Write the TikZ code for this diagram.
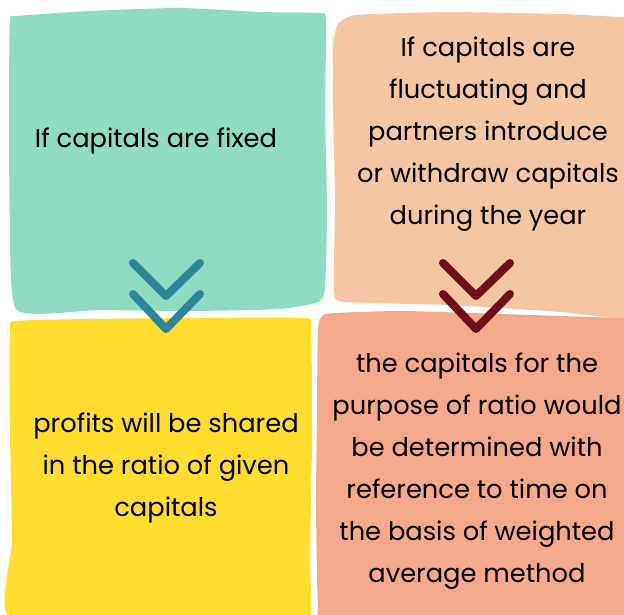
\documentclass[tikz,border=0pt]{standalone}
\usepackage{fontspec}
\setmainfont{Poppins}
\usetikzlibrary{positioning}
\definecolor{cmint}{HTML}{8FDBC3}
\definecolor{cpeach}{HTML}{F5C6A4}
\definecolor{cyellow}{HTML}{FDDD2E}
\definecolor{csalmon}{HTML}{F5A98C}
\definecolor{cteal}{HTML}{2E8699}
\definecolor{cwine}{HTML}{6E0F1A}
\tikzset{
  note/.style={align=center, text=black, inner sep=0pt,
    font=\fontsize{18.3}{29.9}\selectfont},
  patch/.style={fill=#1, draw=none},
  chev/.style={draw=#1, line width=5.7pt, line cap=round, line join=round}
}
\begin{document}
\begin{tikzpicture}[x=0.25mm, y=-0.25mm]
  \useasboundingbox (0,0) rectangle (624,615);
  % paper patches
  \fill[patch=cmint] plot[smooth cycle, tension=0.35] coordinates {
    (10,22) (18,16) (90,11) (180,8) (260,12) (318,13) (326,20)
    (325,110) (327,210) (325,288) (318,302) (280,309) (190,311)
    (100,310) (17,310) (10,220) (9,120)};
  \fill[patch=cpeach] plot[smooth cycle, tension=0.3] coordinates {
    (333,45) (338,24) (356,15) (450,12) (560,14) (620,17) (720,22)
    (720,330) (620,319) (560,312) (450,305) (345,302) (334,292)
    (335,200) (333,110)};
  \fill[patch=cyellow] plot[smooth cycle, tension=0.35] coordinates {
    (10,330) (16,321) (90,319) (200,318) (303,318) (311,328)
    (312,440) (310,560) (311,606) (300,618) (150,618) (10,618)
    (12,540) (10,430)};
  \fill[patch=csalmon] plot[smooth cycle, tension=0.3] coordinates {
    (318,330) (326,314) (400,311) (500,314) (620,318) (720,322)
    (720,700) (330,700) (318,606) (316,500) (317,420)};
  % texts
  \node[note] (fixedcap) at (156,141) {If capitals are fixed};
  \node[note] (fluctcap) at (488,134) {If capitals are\\fluctuating and\\partners introduce\\or withdraw capitals\\during the year};
  \node[note] (ratioshare) at (166,468) {profits will be shared\\in the ratio of given\\capitals};
  \node[note] (weightavg) at (477,471) {the capitals for the\\purpose of ratio would\\be determined with\\reference to time on\\the basis of weighted\\average method};
  % chevrons
  \draw[chev=cteal] (133,263) -- (166,296) -- (200,263);
  \draw[chev=cteal] (133,294) -- (166,329) -- (200,294);
  \draw[chev=cwine] (443,263) -- (476,296) -- (510,263);
  \draw[chev=cwine] (443,294) -- (476,329) -- (510,294);
\end{tikzpicture}
\end{document}
